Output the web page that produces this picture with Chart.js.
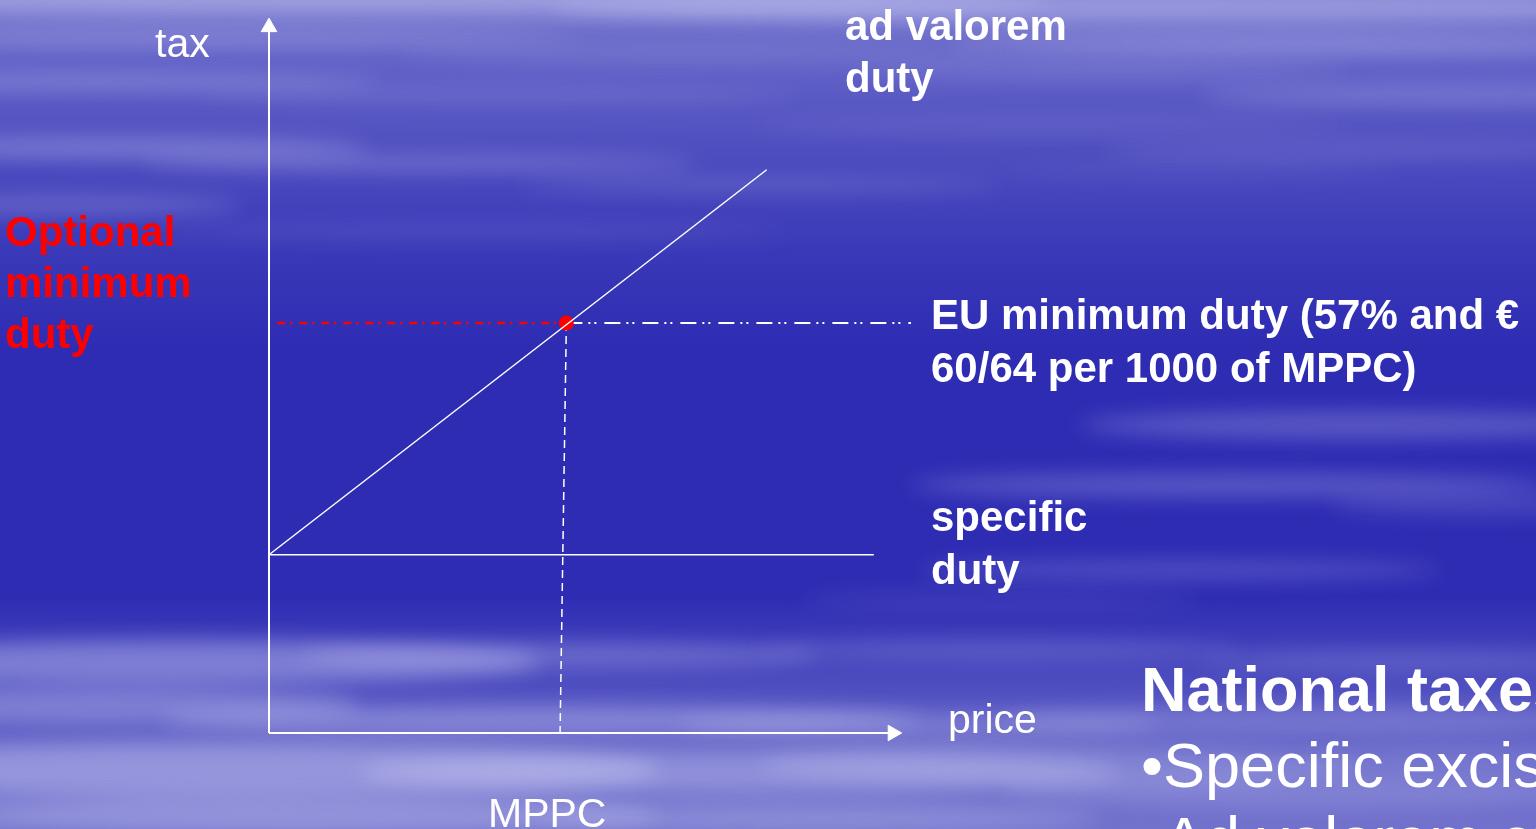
<!DOCTYPE html>
<html>
<head>
<meta charset="utf-8">
<title>Tobacco excise: specific and ad valorem duty</title>
<script src="https://cdn.jsdelivr.net/npm/chart.js@4.4.1/dist/chart.umd.min.js"></script>
<style>
    html, body { margin: 0; padding: 0; background: #2e2db3; overflow: hidden; }
    canvas { display: block; }
</style>
</head>
<body>
<canvas id="duty" width="1536" height="829"></canvas>
<script>
'use strict';

// price (x) and tax (y) in plain units, origin at the axis corner
var priceRange = [0, 10];
var taxRange = [0, 10];
var axisEnd = 9.9;

var specificPrice = [0, 9.6];
var specificTax = [2.5, 2.5];

var adValoremPrice = [0, 7.9];
var adValoremTax = [2.5, 7.9];

var mppc = 4.72;           // price where the ad valorem line meets the minimum
var mppcFoot = 4.62;       // where the drop line reaches the price axis
var minimumDuty = 5.75;
var optionalStart = 0.13;  // red part of the minimum line
var minimumEnd = 10.19;    // white part of the minimum line

var taxLabel = 'tax';
var priceLabel = 'price';
var mppcLabel = 'MPPC';
var adValoremLabel = ['ad valorem', 'duty'];
var minimumLabel = ['EU minimum duty (57% and \u20ac', '60/64 per 1000 of MPPC)'];
var specificLabel = ['specific', 'duty'];
var optionalLabel = ['Optional', 'minimum', 'duty'];
var slideHeading = 'National taxes';
var slideBullets = ['\u2022Specific excise', '\u2022Ad valorem excise'];

var font = '"Liberation Sans", Arial, sans-serif';

var pts = function (xs, ys) {
    return xs.map(function (x, i) { return { x: x, y: ys[i] }; });
};

// soft light streaks across the blue backdrop: [x, y, rx, ry, alpha]
var streaks = [
    [350, 0, 700, 14, 0.45], [1150, 8, 600, 14, 0.40], [1300, 45, 350, 10, 0.32],
    [1450, 95, 250, 10, 0.25], [200, 38, 380, 7, 0.30], [700, 55, 300, 6, 0.20],
    [100, 82, 280, 8, 0.30], [500, 95, 300, 6, 0.18], [1100, 70, 250, 6, 0.25],
    [1050, 125, 300, 6, 0.15], [1350, 150, 250, 7, 0.18], [120, 148, 250, 10, 0.35],
    [420, 163, 280, 7, 0.32], [760, 185, 240, 6, 0.22], [60, 205, 180, 10, 0.25],
    [470, 232, 320, 6, 0.15], [1200, 170, 200, 5, 0.12],
    [1360, 425, 280, 14, 0.28], [1230, 485, 320, 12, 0.28], [1480, 505, 150, 10, 0.18],
    [1180, 570, 260, 10, 0.22], [1000, 600, 200, 8, 0.12],
    [180, 662, 360, 22, 0.42], [560, 655, 260, 12, 0.30], [1000, 650, 240, 10, 0.20],
    [1400, 660, 200, 10, 0.20], [100, 705, 260, 18, 0.35], [540, 720, 380, 14, 0.38],
    [920, 725, 240, 12, 0.28], [1300, 720, 300, 14, 0.25], [220, 770, 440, 28, 0.45],
    [740, 772, 380, 22, 0.38], [1060, 765, 300, 20, 0.26], [1300, 790, 300, 18, 0.22],
    [300, 815, 360, 18, 0.38], [820, 818, 280, 14, 0.30], [1450, 760, 150, 12, 0.18]
];

var drawSky = function (ctx, w, h) {
    var g = ctx.createLinearGradient(0, 0, 0, h);
    g.addColorStop(0.00, '#7a7ad0');
    g.addColorStop(0.07, '#6363c8');
    g.addColorStop(0.18, '#4f4ec0');
    g.addColorStop(0.30, '#3a39b8');
    g.addColorStop(0.42, '#2e2cb3');
    g.addColorStop(0.72, '#2e2cb3');
    g.addColorStop(0.80, '#4645bd');
    g.addColorStop(0.90, '#6464c8');
    g.addColorStop(1.00, '#7272cd');
    ctx.fillStyle = g;
    ctx.fillRect(0, 0, w, h);

    ctx.save();
    ctx.filter = 'blur(10px)';
    streaks.forEach(function (s) {
        ctx.fillStyle = 'rgba(205, 205, 245, ' + s[4] + ')';
        ctx.beginPath();
        ctx.ellipse(s[0], s[1], s[2], s[3], 0, 0, Math.PI * 2);
        ctx.fill();
    });
    ctx.restore();
};

var writeLines = function (ctx, lines, x, y, step) {
    lines.forEach(function (line, i) {
        ctx.fillText(line, x, y + i * step);
    });
};

var backdrop = {
    id: 'backdrop',
    beforeDraw: function (chart) {
        drawSky(chart.ctx, chart.width, chart.height);
    }
};

var captions = {
    id: 'captions',
    afterDraw: function (chart) {
        var ctx = chart.ctx;
        ctx.save();
        ctx.textBaseline = 'alphabetic';
        ctx.textAlign = 'left';
        ctx.fillStyle = '#ffffff';

        ctx.font = '41px ' + font;
        ctx.fillText(taxLabel, 155, 57);
        ctx.fillText(priceLabel, 948, 733);
        ctx.fillText(mppcLabel, 488, 827);

        ctx.font = 'bold 42px ' + font;
        writeLines(ctx, adValoremLabel, 845, 40, 52);
        writeLines(ctx, minimumLabel, 931, 329, 53);
        writeLines(ctx, specificLabel, 931, 531, 53);

        ctx.fillStyle = '#ff0000';
        writeLines(ctx, optionalLabel, 5, 246, 51);

        ctx.fillStyle = '#ffffff';
        ctx.font = 'bold 63px ' + font;
        ctx.fillText(slideHeading, 1141, 711);
        ctx.font = '63px ' + font;
        writeLines(ctx, slideBullets, 1141, 787, 74);
        ctx.restore();
    }
};

var line = function (data, opts) {
    return Object.assign({
        data: data,
        borderColor: '#ffffff',
        borderWidth: 1.5,
        pointRadius: 0,
        fill: false,
        clip: false,
        order: 2
    }, opts || {});
};

var arrowHead = function (rotation) {
    return {
        borderWidth: 2,
        pointRadius: [0, 9],
        pointStyle: 'triangle',
        pointRotation: rotation,
        pointBackgroundColor: '#ffffff',
        pointBorderColor: '#ffffff',
        pointBorderWidth: 1
    };
};

// lower order is painted later: the ad valorem line crosses over the red point
var chart = new Chart(document.getElementById('duty').getContext('2d'), {
    type: 'line',
    data: {
        datasets: [
            // axes with arrow heads at the far end
            line(pts([0, 0], [0, axisEnd]), arrowHead(0)),
            line(pts([0, axisEnd], [0, 0]), arrowHead(90)),
            line(pts(specificPrice, specificTax)),
            line(pts(adValoremPrice, adValoremTax), { order: 0 }),
            line(pts([optionalStart, mppc], [minimumDuty, minimumDuty]), {
                borderColor: '#ff0000',
                borderWidth: 2.5,
                borderDash: [8, 5, 2, 7]
            }),
            line(pts([mppc, minimumEnd], [minimumDuty, minimumDuty]), {
                borderWidth: 2,
                borderDash: [16, 6, 2, 4, 2, 8]
            }),
            line(pts([mppc, mppcFoot], [minimumDuty, 0]), {
                borderDash: [8, 5]
            }),
            // EU minimum point
            {
                type: 'scatter',
                data: pts([mppc], [minimumDuty]),
                pointRadius: 7.5,
                backgroundColor: '#ff0000',
                borderColor: '#ff0000',
                borderWidth: 0,
                clip: false,
                order: 1
            }
        ]
    },
    options: {
        responsive: false,
        animation: false,
        events: [],
        layout: { padding: { left: 269, right: 637, top: 20, bottom: 96 } },
        scales: {
            x: { type: 'linear', display: false, min: priceRange[0], max: priceRange[1] },
            y: { type: 'linear', display: false, min: taxRange[0], max: taxRange[1] }
        },
        plugins: {
            legend: { display: false },
            tooltip: { enabled: false }
        }
    },
    plugins: [backdrop, captions]
});
</script>
</body>
</html>
